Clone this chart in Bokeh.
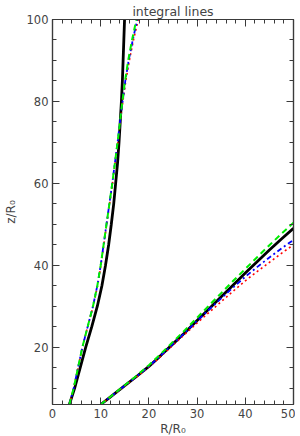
from bokeh.plotting import figure
from bokeh.models import Range1d, LinearAxis, SingleIntervalTicker
from bokeh.embed import file_html
from bokeh.resources import INLINE

# ---- data ----
z_left = [6, 8, 10, 15, 20, 25, 30, 35, 40, 45, 50, 55, 60, 65, 70, 75, 80, 85, 90, 95, 100]
black_left_R = [3.5, 4.05, 4.6, 5.75, 6.9, 8.15, 9.3, 10.25, 11.0, 11.65, 12.2, 12.7, 13.1, 13.5, 13.8, 14.05, 14.3, 14.5, 14.65, 14.8, 14.95]
green_left_R = [3.5, 3.95, 4.4, 5.3, 6.2, 7.3, 8.4, 9.3, 10.0, 10.6, 11.2, 11.8, 12.4, 12.95, 13.5, 14.0, 14.5, 15.05, 15.7, 16.5, 17.4]
blue_left_R = [3.5, 3.95, 4.4, 5.3, 6.2, 7.3, 8.4, 9.3, 10.0, 10.6, 11.2, 11.8, 12.4, 12.95, 13.5, 14.0, 14.55, 15.1, 15.8, 16.65, 17.6]
red_left_R = [3.5, 3.95, 4.4, 5.3, 6.2, 7.3, 8.45, 9.35, 10.05, 10.65, 11.25, 11.85, 12.45, 13.0, 13.55, 14.05, 14.6, 15.2, 15.95, 16.8, 17.8]

R_right = [10, 12.5, 15, 17.5, 20, 22.5, 25, 27.5, 30, 32.5, 35, 37.5, 40, 42.5, 45, 47.5, 50]
black_right_z = [6, 8.3, 10.6, 12.9, 15.3, 18.0, 20.8, 23.6, 26.5, 29.4, 32.3, 35.2, 38.1, 40.9, 43.7, 46.4, 49.0]
green_right_z = [6, 8.35, 10.7, 13.1, 15.6, 18.4, 21.3, 24.2, 27.2, 30.2, 33.2, 36.2, 39.1, 42.0, 44.9, 47.7, 50.4]
blue_right_z = [6, 8.3, 10.6, 12.9, 15.3, 18.0, 20.8, 23.55, 26.4, 29.2, 31.9, 34.6, 37.2, 39.6, 41.9, 44.1, 46.2]
red_right_z = [6, 8.25, 10.5, 12.8, 15.1, 17.8, 20.5, 23.2, 25.9, 28.5, 31.1, 33.7, 36.2, 38.5, 40.7, 42.9, 45.0]

title_text = "integral lines"
x_label = "R/R\u2080"
y_label = "z/R\u2080"

AX = "#3a3a3a"
FONT = "DejaVu Sans"

p = figure(frame_width=241, frame_height=385, output_backend="svg", toolbar_location=None,
           x_range=Range1d(0, 50), y_range=Range1d(6, 100), title=title_text,
           min_border_left=43, min_border_right=2, min_border_top=19, min_border_bottom=20)
p.title.align = "center"
p.title.text_font = FONT
p.title.text_font_size = "12.5px"
p.title.text_font_style = "normal"
p.title.text_color = "#444444"
p.title.standoff = 2
p.title.offset = 0

p.grid.visible = False
p.outline_line_color = AX
p.outline_line_width = 1.2
p.background_fill_color = "white"
p.border_fill_color = "white"

p.xaxis.ticker = SingleIntervalTicker(interval=10, num_minor_ticks=5)
p.yaxis.ticker = SingleIntervalTicker(interval=20, num_minor_ticks=4)

for ax in (p.xaxis[0], p.yaxis[0]):
    ax.axis_line_color = AX
    ax.axis_line_width = 1.2
    ax.major_tick_line_color = AX
    ax.minor_tick_line_color = AX
    ax.major_tick_in = 7
    ax.major_tick_out = 0
    ax.minor_tick_in = 4
    ax.minor_tick_out = 0
    ax.major_label_text_font = FONT
    ax.major_label_text_font_size = "11.5px"
    ax.major_label_text_color = "#444444"
    ax.axis_label_text_font = FONT
    ax.axis_label_text_font_size = "12px"
    ax.axis_label_text_font_style = "normal"
    ax.axis_label_text_color = "#444444"

p.xaxis.axis_label = x_label
p.yaxis.axis_label = y_label
p.xaxis.major_label_standoff = 4
p.xaxis.axis_label_standoff = 1
p.yaxis.major_label_standoff = 4
p.yaxis.axis_label_standoff = 6

top = LinearAxis(ticker=SingleIntervalTicker(interval=10, num_minor_ticks=5))
right = LinearAxis(ticker=SingleIntervalTicker(interval=20, num_minor_ticks=4))
for ax in (top, right):
    ax.axis_line_color = AX
    ax.axis_line_width = 1.2
    ax.major_tick_line_color = AX
    ax.minor_tick_line_color = AX
    ax.major_tick_in = 7
    ax.major_tick_out = 0
    ax.minor_tick_in = 4
    ax.minor_tick_out = 0
    ax.major_label_text_font_size = "1px"
    ax.major_label_text_alpha = 0
    ax.major_label_standoff = 0
p.add_layout(top, "above")
p.add_layout(right, "right")

# curves
p.line(black_left_R, z_left, line_color="black", line_width=2.8)
p.line(R_right, black_right_z, line_color="black", line_width=2.8)

p.line(red_left_R, z_left, line_color="#ff0000", line_width=1.6, line_dash="2 3")
p.line(R_right, red_right_z, line_color="#ff0000", line_width=1.6, line_dash="2 3")
p.line(blue_left_R, z_left, line_color="#0000ff", line_width=1.8, line_dash="5 3 2 3")
p.line(R_right, blue_right_z, line_color="#0000ff", line_width=1.8, line_dash="5 3 2 3")
p.line(green_left_R, z_left, line_color="#00ee00", line_width=2.0, line_dash="6 4")
p.line(R_right, green_right_z, line_color="#00ee00", line_width=2.0, line_dash="6 4")

open("out.html", "w").write(file_html(p, INLINE))
